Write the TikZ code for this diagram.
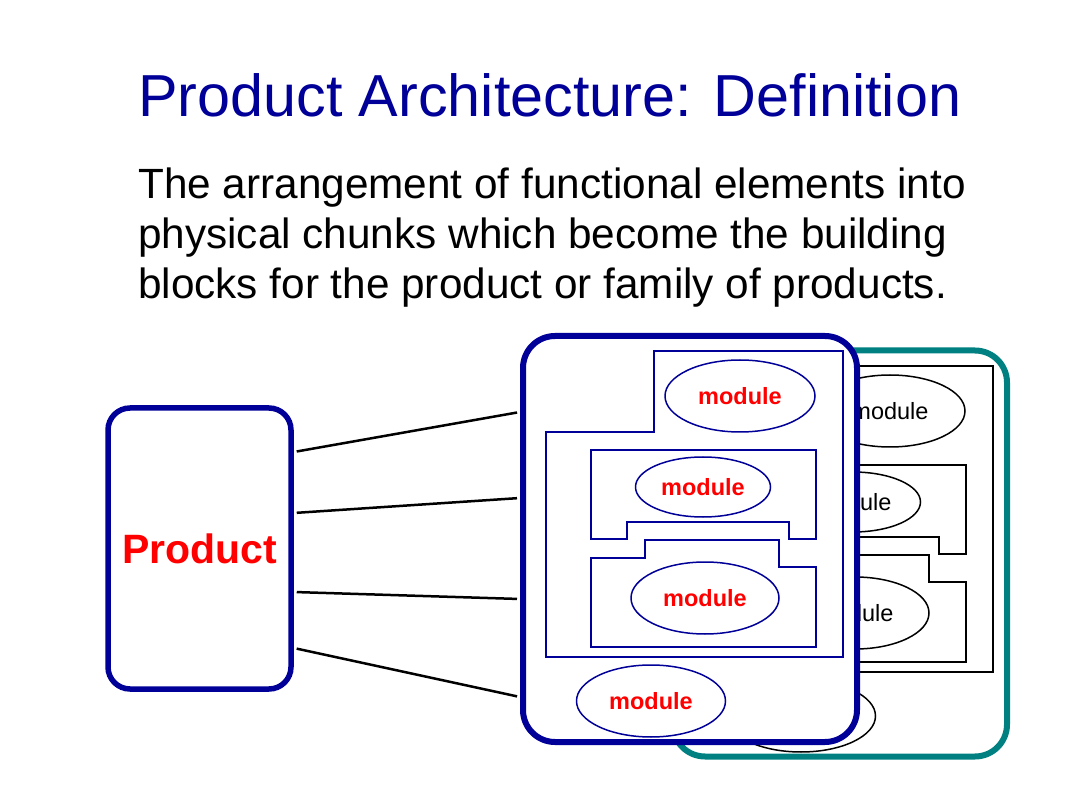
\documentclass[tikz,border=0pt]{standalone}
\usepackage{fontspec}
\setmainfont{Liberation Sans}
\usetikzlibrary{shapes}
\definecolor{titleblue}{RGB}{0,0,153}
\definecolor{boxteal}{RGB}{0,128,128}
\tikzstyle{chunk}=[rounded corners=32pt,line width=6pt,fill=white,minimum width=334pt,minimum height=406pt]
\tikzstyle{frame}=[line width=1.5pt]
\tikzstyle{module}=[ellipse,draw,line width=1.5pt,inner sep=0pt,font=\modfont]
\tikzstyle{link}=[line width=2.5pt,shorten >=3pt,shorten <=3pt]
\newcommand{\modfont}{\fontsize{23.5}{28}\selectfont}

\begin{document}
\begin{tikzpicture}[x=1pt,y=-1pt]
    \useasboundingbox (0,0) rectangle (1080,810);
    \node[anchor=base west,inner sep=0pt,text=titleblue,font=\fontsize{59.3}{70}\selectfont] (title) at (138,117) {Product Architecture: Definition};
    \node[anchor=base west,inner sep=0pt,font=\fontsize{42.3}{50}\selectfont] (def1) at (138,199) {The arrangement of functional elements into};
    \node[anchor=base west,inner sep=0pt,font=\fontsize{42.3}{50}\selectfont] (def2) at (138,249) {physical chunks which become the building};
    \node[anchor=base west,inner sep=0pt,font=\fontsize{42.3}{50}\selectfont] (def3) at (138,299) {blocks for the product or family of products.};

    \node[draw=titleblue,fill=white,line width=5.5pt,rounded corners=22pt,minimum width=183pt,minimum height=281pt,
          text=red,font=\bfseries\fontsize{41}{49}\selectfont] (product) at (199.5,548.5) {Product};

    % chunk behind
    \node[chunk,draw=boxteal] (back) at (840,553.5) {};
    \begin{scope}[shift={(150,15)}]
	 \draw[frame] (546,432) -- (654,432) -- (654,351) -- (843,351) -- (843,657) -- (546,657) -- cycle;
	 \draw[frame] (591,450) -- (816,450) -- (816,539) -- (789,539) -- (789,522) -- (627,522) -- (627,539) -- (591,539) -- cycle;
	 \draw[frame] (645,540) -- (779,540) -- (779,567) -- (816,567) -- (816,647) -- (591,647) -- (591,558) -- (645,558) -- cycle;
    \node[module,minimum width=150pt,minimum height=72pt] (b1) at (740,396) {module};
    \node[module,minimum width=135pt,minimum height=60pt] (b2) at (703,487) {module};
    \node[module,minimum width=148pt,minimum height=72pt] (b3) at (705,598) {module};
    \node[module,minimum width=149pt,minimum height=72pt] (b4) at (651,701) {module};
    \end{scope}

    % chunk in front
    \node[chunk,draw=titleblue] (front) at (690,539) {};
	 \draw[frame,titleblue] (546,432) -- (654,432) -- (654,351) -- (843,351) -- (843,657) -- (546,657) -- cycle;
	 \draw[frame,titleblue] (591,450) -- (816,450) -- (816,539) -- (789,539) -- (789,522) -- (627,522) -- (627,539) -- (591,539) -- cycle;
	 \draw[frame,titleblue] (645,540) -- (779,540) -- (779,567) -- (816,567) -- (816,647) -- (591,647) -- (591,558) -- (645,558) -- cycle;
    \node[module,draw=titleblue,text=red,font=\bfseries\modfont,minimum width=150pt,minimum height=72pt] (m1) at (740,396) {module};
    \node[module,draw=titleblue,text=red,font=\bfseries\modfont,minimum width=135pt,minimum height=60pt] (m2) at (703,487) {module};
    \node[module,draw=titleblue,text=red,font=\bfseries\modfont,minimum width=148pt,minimum height=72pt] (m3) at (705,598) {module};
    \node[module,draw=titleblue,text=red,font=\bfseries\modfont,minimum width=149pt,minimum height=72pt] (m4) at (651,701) {module};

    \draw[link] (product.east |- 0,452) -- (front.west |- 0,412);
    \draw[link] (product.east |- 0,513) -- (front.west |- 0,498);
    \draw[link] (product.east |- 0,592) -- (front.west |- 0,599);
    \draw[link] (product.east |- 0,648) -- (front.west |- 0,697);
\end{tikzpicture}
\end{document}
